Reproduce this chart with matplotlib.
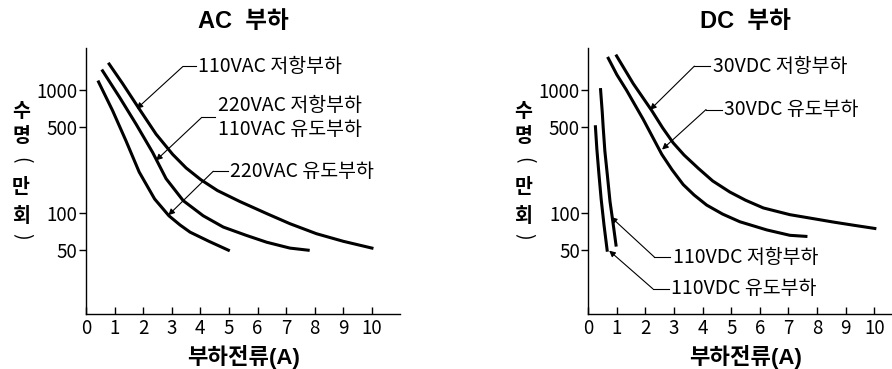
import matplotlib
matplotlib.use('Agg')
import matplotlib.pyplot as plt

plt.rcParams['font.family'] = ['Noto Sans CJK KR', 'DejaVu Sans']
BOLD_FAM = ['Liberation Sans', 'Noto Sans CJK KR']

# AC 부하 curves (x: 부하전류 A, y: 수명 만회)
ac_110r_x = [0.81, 1.28, 1.86, 2.45, 3.03, 3.50, 4.02, 4.60, 5.38, 6.32, 7.13, 8.06, 9.00, 10.0]
ac_110r_y = [1612, 1120, 699, 436, 299, 232, 186, 152, 124, 99, 82, 68, 59, 52]
ac_mid_x = [0.58, 1.17, 1.75, 2.33, 2.80, 3.40, 4.10, 4.80, 5.60, 6.32, 7.13, 7.77]
ac_mid_y = [1420, 870, 526, 310, 190, 126, 95, 77, 66, 58, 52, 50]
ac_220i_x = [0.44, 0.93, 1.40, 1.86, 2.40, 2.90, 3.29, 3.64, 4.30, 4.98]
ac_220i_y = [1154, 676, 384, 215, 130, 95, 80, 70, 59, 50]

# DC 부하 curves
dc_30r_x = [0.99, 1.57, 2.22, 2.60, 2.97, 3.35, 3.85, 4.35, 4.95, 5.50, 6.12, 7.05, 8.00, 8.57, 9.30, 10.02]
dc_30r_y = [1875, 1120, 676, 490, 370, 295, 230, 182, 148, 127, 110, 97, 89, 84.5, 79.5, 75]
dc_30i_x = [0.70, 1.00, 1.34, 1.62, 1.92, 2.57, 2.93, 3.32, 3.70, 4.14, 4.70, 5.30, 6.24, 7.05, 7.61]
dc_30i_y = [1795, 1320, 987, 760, 575, 299, 224, 170, 140, 116, 98, 85, 73, 66, 64.7]
dc_110r_x = [0.43, 0.49, 0.52, 0.58, 0.67, 0.76, 0.86, 0.97]
dc_110r_y = [1000, 650, 500, 318, 200, 124, 85, 55]
dc_110i_x = [0.25, 0.30, 0.37, 0.45, 0.55, 0.66]
dc_110i_y = [500, 330, 210, 130, 80, 50]

yticks = [50, 100, 500, 1000]
xticks = list(range(0, 11))

# label text, text pos, elbow (start of leader), arrow tip
ac_notes = [
    ("110VAC 저항부하", (3.92, 1540), (3.39, 1540), (1.77, 699)),
    ("220VAC 저항부하\n110VAC 유도부하", (4.60, 596), (4.05, 596), (2.45, 267)),
    ("220VAC 유도부하", (5.03, 218), (4.45, 218), (2.88, 96)),
]
dc_notes = [
    ("30VDC 저항부하", (4.35, 1550), (3.71, 1550), (2.16, 686)),
    ("30VDC 유도부하", (4.76, 690), (4.12, 690), (2.58, 327)),
    ("110VDC 저항부하", (2.95, 44), (2.31, 44), (0.79, 93)),
    ("110VDC 유도부하", (2.90, 24.3), (2.26, 24.3), (0.73, 49.6)),
]

fig = plt.figure(figsize=(8.92, 3.69), dpi=100)
ax1 = fig.add_axes([0.0964, 0.149, 0.352, 0.722])
ax2 = fig.add_axes([0.6595, 0.149, 0.3405, 0.722])


def style_axes(ax, xmax, title):
    ax.set_yscale('log')
    ax.set_ylim(15.2, 2190)
    ax.set_xlim(0, xmax)
    ax.spines['top'].set_visible(False)
    ax.spines['right'].set_visible(False)
    for s in ('left', 'bottom'):
        ax.spines[s].set_linewidth(1.0)
    ax.set_yticks(yticks)
    ax.set_yticklabels([str(v) for v in yticks])
    ax.yaxis.set_minor_locator(matplotlib.ticker.NullLocator())
    ax.set_xticks(xticks)
    ax.tick_params(axis='y', direction='out', length=5, width=1.0, labelsize=13.5, pad=1)
    ax.tick_params(axis='x', direction='in', length=5, width=1.0, labelsize=13.5, pad=3)
    tr = ax.get_xaxis_transform()
    ax.text(5.5, 1.097, title, transform=tr, ha='center', va='center',
            fontsize=17, fontweight='bold', family=BOLD_FAM)
    ax.text(5.5, -0.161, "부하전류(A)", transform=tr, ha='center', va='center',
            fontsize=16, fontweight='bold', family=BOLD_FAM)
    # vertical y label
    chars = [("수", 0.760, 0), ("명", 0.666, 0), ("(", 0.578, -90),
             ("만", 0.476, 0), ("회", 0.366, 0), (")", 0.292, -90)]
    for c, yy, rot in chars:
        ax.text(-2.27, yy, c, transform=tr, ha='center', va='center',
                fontsize=14, fontweight='bold' if rot == 0 else 'normal',
                rotation=rot, clip_on=False)


def notes(ax, items):
    for label, tpos, elbow, tip in items:
        ax.text(tpos[0], tpos[1], label, ha='left', va='center', fontsize=14,
                linespacing=1.2)
        ax.plot([elbow[0], tpos[0] - 0.08], [elbow[1], elbow[1]], color='k', lw=0.8)
        ax.annotate('', xy=tip, xytext=elbow,
                    arrowprops=dict(arrowstyle='-|>', color='k', lw=0.8,
                                    mutation_scale=9, shrinkA=0, shrinkB=0))


lw = 2.2
ax1.plot(ac_110r_x, ac_110r_y, color='k', lw=lw)
ax1.plot(ac_mid_x, ac_mid_y, color='k', lw=lw)
ax1.plot(ac_220i_x, ac_220i_y, color='k', lw=lw)
style_axes(ax1, 10.98, "AC  부하")
notes(ax1, ac_notes)

ax2.plot(dc_30r_x, dc_30r_y, color='k', lw=lw)
ax2.plot(dc_30i_x, dc_30i_y, color='k', lw=lw)
ax2.plot(dc_110r_x, dc_110r_y, color='k', lw=lw)
ax2.plot(dc_110i_x, dc_110i_y, color='k', lw=lw)
style_axes(ax2, 10.62, "DC  부하")
notes(ax2, dc_notes)

fig.savefig("out.png", dpi=100)
